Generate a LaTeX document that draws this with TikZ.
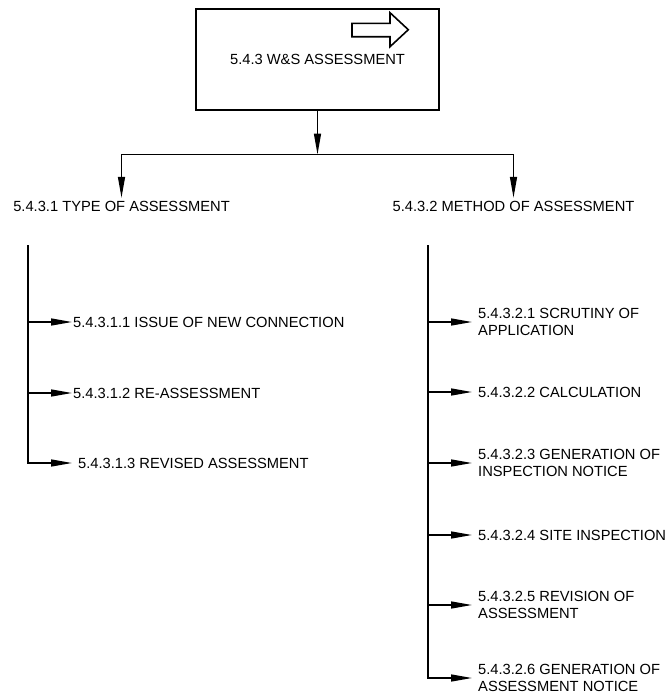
\documentclass[tikz,border=0pt]{standalone}
\usepackage{fontspec}
\setmainfont{Liberation Sans}
\usetikzlibrary{arrows.meta}

\begin{document}
\begin{tikzpicture}[
		x=1pt, y=-1pt,
		>={Triangle[length=21pt,width=7pt]},
		every node/.style={font=\fontsize{14.7}{16.7}\selectfont},
		link/.style={line width=1.4pt},
		mainbox/.style={draw,line width=1.6pt,minimum width=243pt,minimum height=101pt},
		head/.style={inner xsep=0pt,inner ysep=3.5pt},
		leaf/.style={anchor=west,align=left,inner xsep=1pt,inner ysep=0pt},
		farleaf/.style={leaf,inner xsep=6pt}
	]
	\useasboundingbox (0,0) rectangle (668,694);

	\node [mainbox] (WS) at (317.5,59.5) {5.4.3 W\&S ASSESSMENT} ;
	\draw [line width=1.6pt,line join=miter]
		(352,23.3) -- (390,23.3) -- (390,12.7) -- (408.3,29.7)
		-- (390,46.7) -- (390,36.7) -- (352,36.7) -- cycle ;

	\node [head] (Type)   at (121.5,206.7) {5.4.3.1 TYPE OF ASSESSMENT} ;
	\node [head] (Method) at (513.5,206.7) {5.4.3.2 METHOD OF ASSESSMENT} ;

	\coordinate (Fork) at (317.5,154.5) ;
	\draw [link,->] (WS) -- (Fork) ;
	\draw [link,->] (Fork) -| (Type.north) ;
	\draw [link,->] (Fork) -| (Method.north) ;

	% type of assessment
	\node [leaf]    (NewConn)  at (72,322) {5.4.3.1.1 ISSUE OF NEW CONNECTION} ;
	\node [leaf]    (ReAss)    at (72,393) {5.4.3.1.2 RE-ASSESSMENT} ;
	\node [farleaf] (Revised)  at (72,463) {5.4.3.1.3 REVISED ASSESSMENT} ;

	\coordinate (TypeTop) at (28,245) ;
	\draw [link,->] (TypeTop) |- (NewConn.west) ;
	\draw [link,->] (TypeTop) |- (ReAss.west) ;
	\draw [link,->] (TypeTop) |- (Revised.west) ;

	% method of assessment
	\node [farleaf] (Scrutiny) at (472,322) {5.4.3.2.1 SCRUTINY OF\\APPLICATION} ;
	\node [farleaf] (Calc)     at (472,392) {5.4.3.2.2 CALCULATION} ;
	\node [farleaf] (InspNote) at (472,463) {5.4.3.2.3 GENERATION OF\\INSPECTION NOTICE} ;
	\node [farleaf] (SiteInsp) at (472,535) {5.4.3.2.4 SITE INSPECTION} ;
	\node [farleaf] (Revision) at (472,605) {5.4.3.2.5 REVISION OF\\ASSESSMENT} ;
	\node [farleaf] (AssNote)  at (472,678) {5.4.3.2.6 GENERATION OF\\ASSESSMENT NOTICE} ;

	\coordinate (MethodTop) at (428,245) ;
	\draw [link,->] (MethodTop) |- (Scrutiny.west) ;
	\draw [link,->] (MethodTop) |- (Calc.west) ;
	\draw [link,->] (MethodTop) |- (InspNote.west) ;
	\draw [link,->] (MethodTop) |- (SiteInsp.west) ;
	\draw [link,->] (MethodTop) |- (Revision.west) ;
	\draw [link,->] (MethodTop) |- (AssNote.west) ;
\end{tikzpicture}
\end{document}
